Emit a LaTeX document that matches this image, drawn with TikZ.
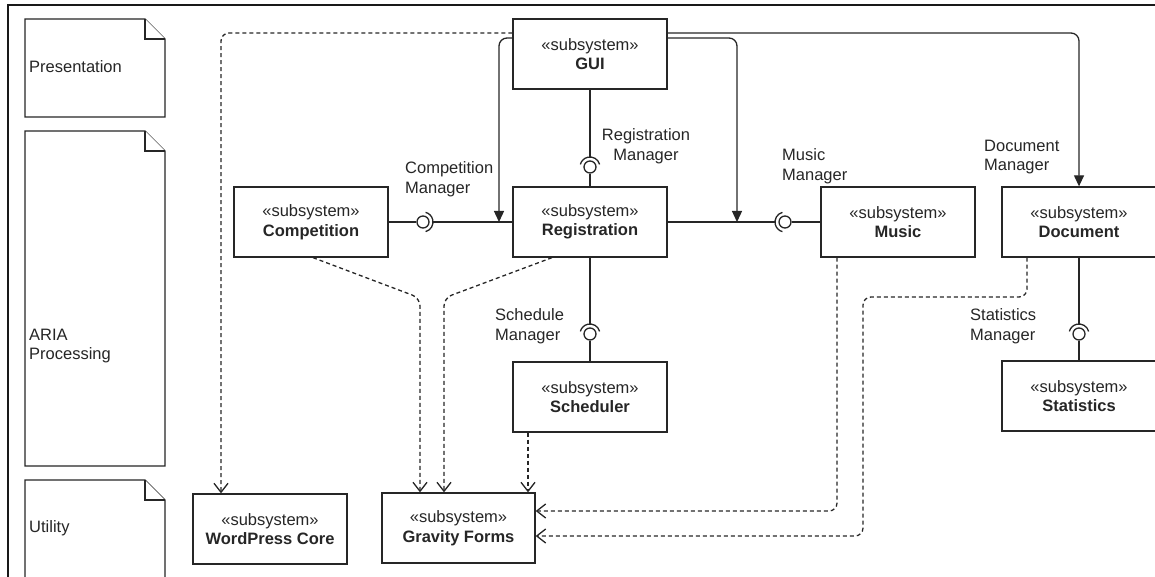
\documentclass[tikz,border=0pt]{standalone}
\usepackage{fontspec}
\setmainfont{Liberation Sans}
\usetikzlibrary{arrows.meta}
\begin{document}
\begin{tikzpicture}[x=1pt,y=-1pt,
  ink/.style={draw=black!85, line width=1.3pt},
  txt/.style={font=\fontsize{16.5}{19.5}\selectfont, text=black!85},
  subsys/.style={ink, fill=white, minimum width=154pt, minimum height=70pt,
    align=center, inner sep=0pt, txt},
  lbl/.style={txt, inner sep=0pt, anchor=west, align=left},
  notebox/.style={ink, fill=white, line join=miter},
  ball/.style={circle, ink, fill=white, minimum size=12pt, inner sep=0pt},
  socket/.style={ink},
  dep/.style={ink, dash pattern=on 4pt off 3pt, rounded corners=8pt,
    -{Straight Barb[length=9pt,width=14pt]}},
  call/.style={ink, rounded corners=8pt, -{Triangle[length=11pt,width=10pt]}},
]
\useasboundingbox (0,0) rectangle (1155,577);
\clip (0,0) rectangle (1155,577);

% outer frame
\draw[line width=2pt, draw=black!90] (8,600) -- (8,5) -- (1170,5);

% layer notes
\draw[notebox] (25,19) -- (145,19) -- (165,39) -- (165,117) -- (25,117) -- cycle;
\draw[notebox] (145,19) -- (145,39) -- (165,39);
\node[lbl] (lpres) at (29,67) {Presentation};

\draw[notebox] (25,131) -- (145,131) -- (165,151) -- (165,466) -- (25,466) -- cycle;
\draw[notebox] (145,131) -- (145,151) -- (165,151);
\node[lbl] (laria) at (29,346) {ARIA\\Processing};

\draw[notebox] (25,480) -- (145,480) -- (165,500) -- (165,600) -- (25,600) -- cycle;
\draw[notebox] (145,480) -- (145,500) -- (165,500);
\node[lbl] (lutil) at (29,528) {Utility};

% subsystems
\node[subsys] (gui)   at (590,54)   {«subsystem»\\\textbf{GUI}};
\node[subsys] (reg)   at (590,222)  {«subsystem»\\\textbf{Registration}};
\node[subsys] (comp)  at (311,222)  {«subsystem»\\\textbf{Competition}};
\node[subsys] (music) at (898,222)  {«subsystem»\\\textbf{Music}};
\node[subsys] (doc)   at (1079,222) {«subsystem»\\\textbf{Document}};
\node[subsys] (sched) at (590,397)  {«subsystem»\\\textbf{Scheduler}};
\node[subsys] (stats) at (1079,396) {«subsystem»\\\textbf{Statistics}};
\node[subsys, minimum width=153pt] (gf) at (458.5,528) {«subsystem»\\\textbf{Gravity Forms}};
\node[subsys] (wp)    at (270,529)  {«subsystem»\\\textbf{WordPress Core}};

% provided / required interfaces
\node[ball] (b1) at (590,167) {};
\coordinate (s1) at ([yshift=10pt]b1.center);
\draw[socket] ([shift={(15:10pt)}]b1.center) arc[start angle=15,end angle=165,radius=10pt];
\draw[ink] (gui) -- (s1);
\draw[ink] (reg) -- (b1);

\node[ball] (b2) at (423,222) {};
\coordinate (s2) at ([xshift=10pt]b2.center);
\draw[socket] ([shift={(-75:10pt)}]b2.center) arc[start angle=-75,end angle=75,radius=10pt];
\draw[ink] (comp) -- (b2);
\draw[ink] (s2) -- (reg);

\node[ball] (b3) at (785,222) {};
\coordinate (s3) at ([xshift=-10pt]b3.center);
\draw[socket] ([shift={(105:10pt)}]b3.center) arc[start angle=105,end angle=255,radius=10pt];
\draw[ink] (reg) -- (s3);
\draw[ink] (b3) -- (music);

\node[ball] (b4) at (590,334) {};
\coordinate (s4) at ([yshift=10pt]b4.center);
\draw[socket] ([shift={(15:10pt)}]b4.center) arc[start angle=15,end angle=165,radius=10pt];
\draw[ink] (reg) -- (s4);
\draw[ink] (b4) -- (sched);

\node[ball] (b5) at (1079,334) {};
\coordinate (s5) at ([yshift=10pt]b5.center);
\draw[socket] ([shift={(15:10pt)}]b5.center) arc[start angle=15,end angle=165,radius=10pt];
\draw[ink] (doc) -- (s5);
\draw[ink] (b5) -- (stats);

% interface labels
\node[lbl] (lcm) at (405,179) {Competition\\Manager};
\node[txt, inner sep=0pt, align=center] (lrm) at (646,146) {Registration\\Manager};
\node[lbl] (lmm) at (782,166) {Music\\Manager};
\node[lbl] (ldm) at (984,157) {Document\\Manager};
\node[lbl] (lsm) at (495,326) {Schedule\\Manager};
\node[lbl] (lstm) at (970,326) {Statistics\\Manager};

% calls from the GUI
\coordinate (j0) at (499,222);
\coordinate (j1) at (737,222);
\draw[call] ([yshift=16pt]gui.west) -| (j0);
\draw[call] ([yshift=16pt]gui.east) -| (j1);
\draw[call] ([yshift=21pt]gui.east) -| (doc.north);

% dependencies on the utility layer
\draw[dep] ([yshift=21pt]gui.west) -| ([xshift=-49pt]wp.north);
\draw[dep] ([xshift=2pt]comp.south) -- (420,298) -- ([xshift=-38.5pt]gf.north);
\draw[dep] ([xshift=-38pt]reg.south) -- (444,298) -- ([xshift=-14.5pt]gf.north);
\draw[dep] ([xshift=-62pt]sched.south) -- ([xshift=69.5pt]gf.north);
\draw[dep] ([xshift=-61pt]music.south) |- ([yshift=17pt]gf.east);
\draw[dep] ([xshift=-52pt]doc.south) -- (1027,297) -- (863,297) |- ([yshift=-8pt]gf.east);
\end{tikzpicture}
\end{document}
